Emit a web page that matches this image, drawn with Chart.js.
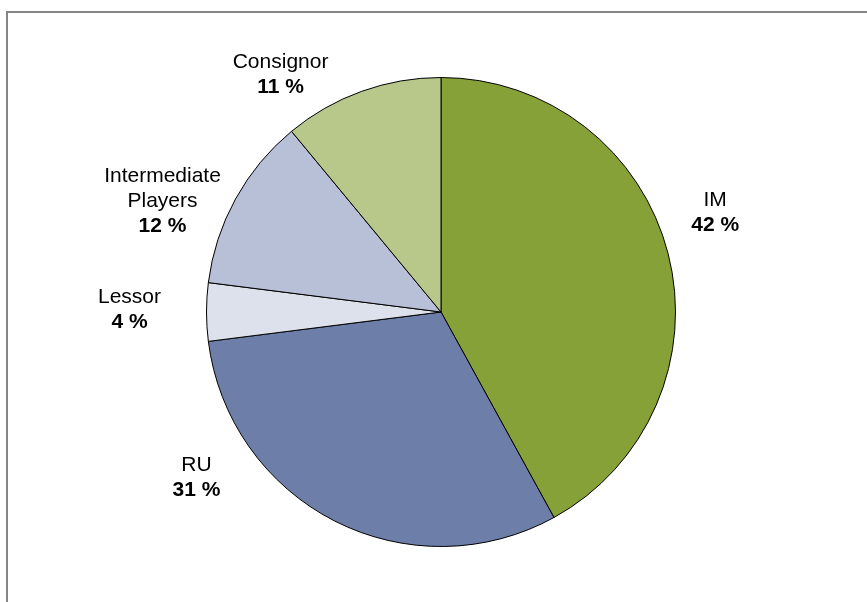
<!DOCTYPE html>
<html>
<head>
<meta charset="utf-8">
<script src="https://cdn.jsdelivr.net/npm/chart.js@4/dist/chart.umd.min.js"></script>
<style>
  html, body { margin: 0; padding: 0; background: #ffffff; }
  #wrap { width: 867px; height: 602px; position: relative; }
</style>
</head>
<body>
<div id="wrap"><canvas id="pie" width="867" height="602"></canvas></div>
<script>
// Shares by party (percent), clockwise from 12 o'clock
const categories = [['IM'], ['RU'], ['Lessor'], ['Intermediate', 'Players'], ['Consignor']];
const shares = [42, 31, 4, 12, 11];
const sliceColors = ['#86A138', '#6D7FA9', '#DDE1EB', '#B7C0D6', '#B8C88B'];

// Label placement: shift from the slice's outer mid-point to the label block centre
const labelShift = [[47, -41], [-138, -43], [-77, -2], [-73, 2], [-81, -17]];

const FONT = '"Liberation Sans", Arial, sans-serif';

const framePlugin = {
  id: 'frame',
  beforeDraw(chart) {
    const ctx = chart.ctx;
    ctx.save();
    ctx.fillStyle = '#ffffff';
    ctx.fillRect(0, 0, chart.width, chart.height);
    ctx.strokeStyle = '#858585';
    ctx.lineWidth = 2;
    ctx.beginPath();
    ctx.moveTo(chart.width + 5, 12);
    ctx.lineTo(7, 12);
    ctx.lineTo(7, chart.height + 5);
    ctx.stroke();
    ctx.restore();
  }
};

const sliceLabels = {
  id: 'sliceLabels',
  afterDatasetsDraw(chart) {
    const ctx = chart.ctx;
    const meta = chart.getDatasetMeta(0);
    const lineH = 25;
    ctx.save();
    ctx.fillStyle = '#000000';
    ctx.textAlign = 'center';
    ctx.textBaseline = 'middle';
    meta.data.forEach((arc, i) => {
      const p = arc.getProps(['x', 'y', 'startAngle', 'endAngle', 'outerRadius'], true);
      const mid = (p.startAngle + p.endAngle) / 2;
      const cx = p.x + Math.cos(mid) * p.outerRadius + labelShift[i][0];
      const cy = p.y + Math.sin(mid) * p.outerRadius + labelShift[i][1];
      const lines = categories[i].concat([shares[i] + ' %']);
      const top = cy - (lines.length - 1) * lineH / 2;
      lines.forEach((txt, k) => {
        const isValue = k === lines.length - 1;
        ctx.font = (isValue ? 'bold ' : '') + '21px ' + FONT;
        ctx.fillText(txt, cx, top + k * lineH);
      });
    });
    ctx.restore();
  }
};

new Chart(document.getElementById('pie'), {
  type: 'pie',
  data: {
    labels: categories.map(c => c.join(' ')),
    datasets: [{
      data: shares,
      backgroundColor: sliceColors,
      borderColor: '#000000',
      borderWidth: 1,
      hoverOffset: 0
    }]
  },
  options: {
    responsive: false,
    animation: false,
    events: [],
    layout: { padding: { left: 206, right: 191, top: 77, bottom: 55 } },
    plugins: {
      legend: { display: false },
      tooltip: { enabled: false }
    }
  },
  plugins: [framePlugin, sliceLabels]
});
</script>
</body>
</html>
